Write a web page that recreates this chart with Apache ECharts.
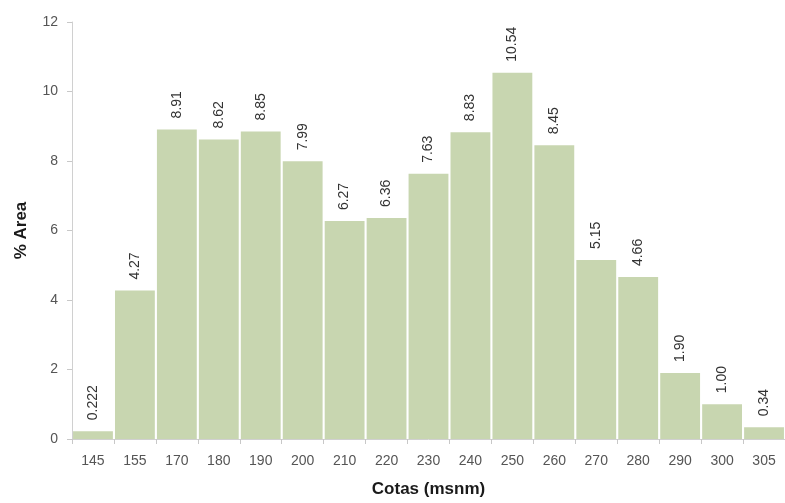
<!DOCTYPE html>
<html><head><meta charset="utf-8">
<script src="https://cdn.jsdelivr.net/npm/echarts@6/dist/echarts.min.js"></script>
<style>html,body{margin:0;padding:0;background:#fff}#c{width:785px;height:503px}</style>
</head><body><div id="c"></div>
<script>
const categories = ['145','155','170','180','190','200','210','220','230','240','250','260','270','280','290','300','305'];
const values = [0.222,4.27,8.91,8.62,8.85,7.99,6.27,6.36,7.63,8.83,10.54,8.45,5.15,4.66,1.90,1.00,0.34];
const labels = ['0.222','4.27','8.91','8.62','8.85','7.99','6.27','6.36','7.63','8.83','10.54','8.45','5.15','4.66','1.90','1.00','0.34'];
const chart = echarts.init(document.getElementById('c'));
const font = 'Liberation Sans, Arial, sans-serif';
chart.setOption({
  animation:false,
  grid:{left:72,right:-1,top:22,bottom:64},
  xAxis:{type:'category',data:categories,
    name:'Cotas (msnm)',nameLocation:'middle',nameGap:42,
    nameTextStyle:{fontFamily:font,fontSize:17,fontWeight:'bold',color:'#1a1a1a'},
    axisLine:{lineStyle:{color:'#d0d0d0',width:1}},
    axisTick:{show:true,length:5,lineStyle:{color:'#c8c8c8'}},
    axisLabel:{fontFamily:font,fontSize:14,color:'#555',margin:15}},
  yAxis:{type:'value',min:0,max:12,interval:2,
    name:'% Area',nameLocation:'middle',nameGap:42,
    nameTextStyle:{fontFamily:font,fontSize:17,fontWeight:'bold',color:'#1a1a1a'},
    axisLine:{show:true,lineStyle:{color:'#d0d0d0',width:1}},
    axisTick:{show:true,length:5,lineStyle:{color:'#c8c8c8'}},
    splitLine:{show:false},
    axisLabel:{fontFamily:font,fontSize:14,color:'#555',margin:14}},
  series:[{type:'bar',data:values,barCategoryGap:'5%',
    itemStyle:{color:'#c8d6b0'},
    label:{show:true,position:'top',rotate:90,align:'left',verticalAlign:'middle',distance:11,
      fontFamily:font,fontSize:14,color:'#333',
      formatter:p=>labels[p.dataIndex]}}]
});
</script></body></html>
